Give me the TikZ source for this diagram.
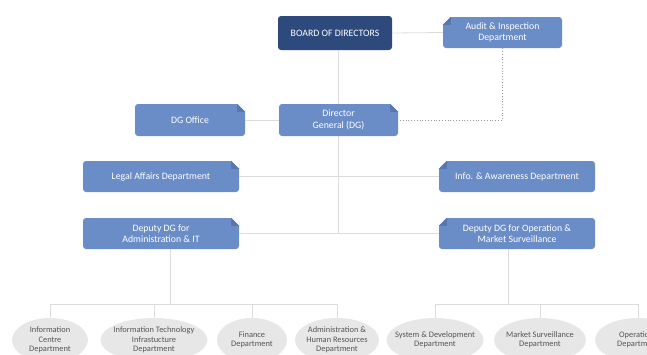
\documentclass[tikz,border=0pt]{standalone}
\usepackage{fontspec}
\setmainfont{Carlito}
\usetikzlibrary{shapes.geometric}

\definecolor{boardblue}{HTML}{2E4A7C}
\definecolor{deptblue}{HTML}{6A8DC8}
\definecolor{foldblue}{HTML}{5677B2}
\definecolor{linegrey}{HTML}{DCDCDC}
\definecolor{ovalgrey}{HTML}{E7E7E7}
\definecolor{ovaltext}{HTML}{555555}

% dog-ear corners on the department boxes
\newcommand{\foldne}[1]{%
  \fill[white] (#1.north east) ++(-8,0) -- ++(8,0) -- ++(0,-8) -- cycle;
  \fill[foldblue] (#1.north east) ++(-8,0) -- ++(8,-8) -- ++(-8,0) -- cycle;}
\newcommand{\foldnw}[1]{%
  \fill[white] (#1.north west) ++(8,0) -- ++(-8,0) -- ++(0,-8) -- cycle;
  \fill[foldblue] (#1.north west) ++(8,0) -- ++(-8,-8) -- ++(8,0) -- cycle;}

\begin{document}
\begin{tikzpicture}[x=1pt,y=1pt,
    dept/.style={fill=deptblue, rounded corners=3pt, text=white, align=center,
      font=\fontsize{9.8}{11.5}\selectfont, inner sep=0pt},
    board/.style={dept, fill=boardblue},
    oval/.style={ellipse, fill=ovalgrey, inner sep=0pt, minimum height=44},
    ovaltxt/.style={text=ovaltext, align=center, inner sep=0pt,
      font=\fontsize{8.4}{9.5}\selectfont},
    conn/.style={draw=linegrey, line width=0.8pt},
    audit line/.style={draw=gray!80, dotted, line width=0.8pt}]
  \useasboundingbox (0,0) rectangle (647,-354);
  \clip (0,0) rectangle (647,-354);

  % Top level
  \node[board, minimum width=114, minimum height=34] (board) at (335,-33) {BOARD OF DIRECTORS};
  \node[dept, minimum width=119, minimum height=31] (audit) at (502.5,-32.5) {Audit \& Inspection\\Department};
  \node[dept, minimum width=110, minimum height=32] (dgoffice) at (190,-120) {DG Office};
  \node[dept, minimum width=119, minimum height=32] (dg) at (338.5,-120) {Director\\General (DG)};

  % Departments and deputies
  \node[dept, minimum width=156, minimum height=31] (legal) at (161,-176.5) {Legal Affairs Department};
  \node[dept, minimum width=156, minimum height=31] (info) at (517,-176.5) {Info. \& Awareness Department};
  \node[dept, minimum width=156, minimum height=31] (depadm) at (161,-233.5) {Deputy DG for\\Administration \& IT};
  \node[dept, minimum width=156, minimum height=31] (depops) at (517,-233.5) {Deputy DG for Operation \&\\Market Surveillance};

  % Bottom row
  \node[oval, minimum width=76, label={[ovaltxt]center:{Information\\Centre\\Department}}] (icd) at (50,-340) {};
  \node[oval, minimum width=107, label={[ovaltxt]center:{Information Technology\\Infrastucture\\Department}}] (itd) at (154,-340) {};
  \node[oval, minimum width=70, label={[ovaltxt]center:{Finance\\Department}}] (fin) at (252,-340) {};
  \node[oval, minimum width=84, label={[ovaltxt]center:{Administration \&\\Human Resources\\Department}}] (ahr) at (337,-340) {};
  \node[oval, minimum width=97, label={[ovaltxt]center:{System \& Development\\Department}}] (sdd) at (435,-340) {};
  \node[oval, minimum width=92, label={[ovaltxt]center:{Market Surveillance\\Department}}] (msd) at (540,-340) {};
  \node[oval, minimum width=86, label={[ovaltxt]center:{Operations\\Department}}] (opd) at (638,-340) {};

  \coordinate (admbus) at (170,-304);
  \coordinate (opsbus) at (508,-304);

  % Connectors
  \draw[conn] (board.east) -- (audit.west);
  \draw[conn] (dg.north) -- (dg.north |- board.south);
  \draw[conn] (dgoffice.east) -- (dg.west);
  \draw[conn] (dg.south) -- (dg.south |- depadm.east);
  \draw[conn] (legal.east) -- (info.west);
  \draw[conn] (depadm.east) -- (depops.west);
  \draw[audit line] (audit.south) |- (dg.east);

  % Left branch
  \draw[conn] (admbus |- depadm.south) -- (admbus);
  \draw[conn] (icd.north |- admbus) -- (ahr.north |- admbus);
  \foreach \n in {icd,itd,fin,ahr}
    \draw[conn] (\n.north |- admbus) -- (\n.north);

  % Right branch
  \draw[conn] (opsbus |- depops.south) -- (opsbus);
  \draw[conn] (sdd.north |- opsbus) -- (opd.north |- opsbus);
  \foreach \n in {sdd,msd,opd}
    \draw[conn] (\n.north |- opsbus) -- (\n.north);

  % Folded corners
  \foldnw{audit}
  \foldne{dgoffice}
  \foldne{dg}
  \foldne{legal}
  \foldnw{info}
  \foldne{depadm}
  \foldnw{depops}
\end{tikzpicture}
\end{document}
